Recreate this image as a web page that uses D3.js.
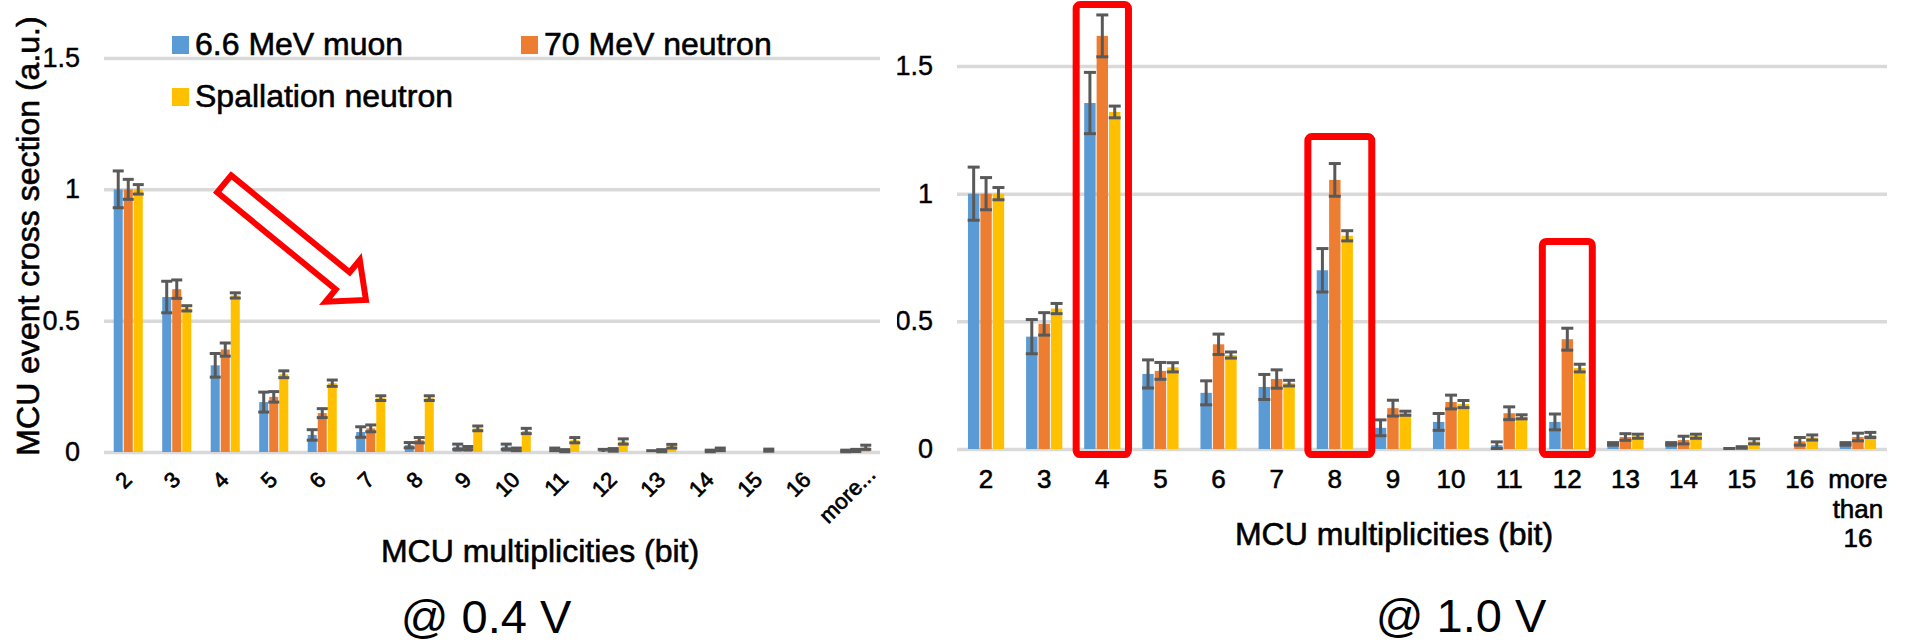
<!DOCTYPE html>
<html>
<head>
<meta charset="utf-8">
<script src="https://cdn.jsdelivr.net/npm/d3@7"></script>
<style>
    body { margin: 0; background: #fff; }
    text { font-family: "Liberation Sans", Arial, sans-serif; }
</style>
</head>
<body>
<div id="chart"></div>
<script>

// data
const seriesNames = ["6.6 MeV muon", "70 MeV neutron", "Spallation neutron"];
const seriesColors = ["#5b9bd5", "#ed7d31", "#ffc000"];
const yTicks = [0, 0.5, 1, 1.5];

// @ 0.4 V
const cats04 = ["2", "3", "4", "5", "6", "7", "8", "9", "10", "11", "12", "13", "14", "15", "16", "more..."];
const muon04 = [1.0, 0.59, 0.33, 0.19, 0.065, 0.076, 0.026, 0.02, 0.02, 0.01, 0.005, 0.002, 0, 0, 0, 0.004];
const muonErr04 = [0.07, 0.06, 0.045, 0.038, 0.02, 0.02, 0.01, 0.01, 0.01, 0.005, 0.005, 0.003, 0, 0, 0, 0.003];
const n70_04 = [1.0, 0.62, 0.39, 0.21, 0.148, 0.09, 0.045, 0.015, 0.01, 0.005, 0.008, 0.005, 0.004, 0, 0, 0.006];
const n70Err04 = [0.038, 0.035, 0.025, 0.02, 0.017, 0.013, 0.01, 0.006, 0.005, 0.004, 0.005, 0.004, 0.003, 0, 0, 0.004];
const spall04 = [1.0, 0.547, 0.596, 0.296, 0.262, 0.205, 0.205, 0.09, 0.08, 0.045, 0.04, 0.022, 0.01, 0.007, 0, 0.018];
const spallErr04 = [0.018, 0.01, 0.01, 0.013, 0.012, 0.009, 0.009, 0.009, 0.01, 0.01, 0.01, 0.007, 0.005, 0.004, 0, 0.008];

// @ 1.0 V
const cats10 = ["2", "3", "4", "5", "6", "7", "8", "9", "10", "11", "12", "13", "14", "15", "16", "more than 16"];
const muon10 = [1.0, 0.44, 1.355, 0.294, 0.22, 0.243, 0.70, 0.083, 0.106, 0.015, 0.106, 0.02, 0.02, 0, 0, 0.02];
const muonErr10 = [0.104, 0.067, 0.12, 0.055, 0.047, 0.049, 0.085, 0.031, 0.033, 0.013, 0.031, 0.005, 0.005, 0.002, 0, 0.005];
const n70_10 = [1.0, 0.49, 1.618, 0.306, 0.41, 0.274, 1.054, 0.16, 0.184, 0.14, 0.43, 0.047, 0.035, 0.006, 0.03, 0.047];
const n70Err10 = [0.063, 0.044, 0.082, 0.033, 0.04, 0.036, 0.064, 0.031, 0.027, 0.025, 0.043, 0.013, 0.015, 0.003, 0.015, 0.015];
const spall10 = [1.0, 0.55, 1.32, 0.32, 0.368, 0.258, 0.835, 0.14, 0.176, 0.126, 0.317, 0.05, 0.05, 0.03, 0.045, 0.055];
const spallErr10 = [0.024, 0.02, 0.023, 0.018, 0.012, 0.011, 0.02, 0.008, 0.014, 0.008, 0.015, 0.008, 0.008, 0.01, 0.01, 0.01];

// red annotations
const boxes10 = [
    { cat: "4", top: 1.741, bottom: -0.022, w: 0.9, dx: 0 },
    { cat: "8", top: 1.224, bottom: -0.022, w: 1.1, dx: 5 },
    { cat: "12", top: 0.813, bottom: -0.022, w: 0.86, dx: 0 }
];
const arrow04 = { fromIdx: 2.43, fromVal: 1.028, toIdx: 5.48, toVal: 0.567 };


const svg = d3.select("#chart")
    .append("svg")
    .attr("width", 1910)
    .attr("height", 643);

svg.append("rect").attr("width", 1910).attr("height", 643).attr("fill", "#fff");

function makeRows(cats, vals, errs) {
    return cats.map(function(c, i) {
        return {
            cat: c,
            items: seriesNames.map(function(s, k) {
                return { name: s, color: seriesColors[k], v: vals[k][i], e: errs[k][i] };
            })
        };
    });
}

function drawPanel(g, cfg) {
    const x0 = d3.scaleBand()
        .domain(cfg.cats)
        .range(cfg.xRange)
        .paddingInner(cfg.pad)
        .paddingOuter(cfg.pad / 2);
    const x1 = d3.scaleBand()
        .domain(seriesNames)
        .range([0, x0.bandwidth()]);
    const y = d3.scaleLinear()
        .domain([0, 1.5])
        .range(cfg.yRange);

    // gridlines + y labels
    const yAxis = g.append("g")
        .attr("transform", "translate(" + cfg.xRange[0] + ",0)")
        .call(d3.axisLeft(y)
            .tickValues(yTicks)
            .tickSize(-(cfg.xRange[1] - cfg.xRange[0]))
            .tickPadding(24)
            .tickFormat(function(d) { return String(d); }));
    yAxis.select(".domain").remove();
    yAxis.selectAll("line")
        .attr("stroke", "#d9d9d9")
        .attr("stroke-width", 3.5);
    yAxis.selectAll("text")
        .attr("fill", "#000")
        .style("font-size", "27px")
        .style("stroke", "#000")
        .style("stroke-width", "0.4px");

    const rows = makeRows(cfg.cats, cfg.vals, cfg.errs);

    const groups = g.append("g")
        .selectAll("g")
        .data(rows)
        .enter()
        .append("g")
        .attr("transform", function(d) { return "translate(" + x0(d.cat) + ",0)"; });

    groups.selectAll("rect")
        .data(function(d) { return d.items; })
        .enter()
        .append("rect")
        .attr("x", function(d) { return x1(d.name) + 0.5; })
        .attr("width", x1.bandwidth() - 1)
        .attr("y", function(d) { return y(d.v); })
        .attr("height", function(d) { return y(0) - y(d.v); })
        .attr("fill", function(d) { return d.color; });

    // error bars
    const capW = cfg.capW;
    const eb = groups.selectAll("g.err")
        .data(function(d) { return d.items.filter(function(it) { return it.e > 0; }); })
        .enter()
        .append("g")
        .attr("class", "err")
        .attr("stroke", "#595959")
        .attr("stroke-width", 3);
    eb.append("line")
        .attr("x1", function(d) { return x1(d.name) + x1.bandwidth() / 2; })
        .attr("x2", function(d) { return x1(d.name) + x1.bandwidth() / 2; })
        .attr("y1", function(d) { return y(Math.max(0, d.v - d.e)); })
        .attr("y2", function(d) { return y(d.v + d.e); });
    eb.append("line")
        .attr("x1", function(d) { return x1(d.name) + x1.bandwidth() / 2 - capW / 2; })
        .attr("x2", function(d) { return x1(d.name) + x1.bandwidth() / 2 + capW / 2; })
        .attr("y1", function(d) { return y(d.v + d.e); })
        .attr("y2", function(d) { return y(d.v + d.e); });
    eb.filter(function(d) { return d.v - d.e > 0; })
        .append("line")
        .attr("x1", function(d) { return x1(d.name) + x1.bandwidth() / 2 - capW / 2; })
        .attr("x2", function(d) { return x1(d.name) + x1.bandwidth() / 2 + capW / 2; })
        .attr("y1", function(d) { return y(d.v - d.e); })
        .attr("y2", function(d) { return y(d.v - d.e); });

    return { x0: x0, y: y };
}

// ---------- right panel (1.0 V) ----------
const gR = svg.append("g");
const right = drawPanel(gR, {
    cats: cats10,
    vals: [muon10, n70_10, spall10],
    errs: [muonErr10, n70Err10, spallErr10],
    xRange: [957, 1887],
    yRange: [449, 66],
    pad: 0.36,
    capW: 12
});

const xAxisR = gR.append("g")
    .attr("transform", "translate(0," + right.y(0) + ")")
    .call(d3.axisBottom(right.x0).tickSize(0).tickFormat(""));
xAxisR.select(".domain").remove();
xAxisR.selectAll(".tick")
    .append("text")
    .attr("fill", "#000")
    .attr("text-anchor", "middle")
    .style("font-size", "26px")
    .style("stroke", "#000")
    .style("stroke-width", "0.6px")
    .each(function(d) {
        const words = d === "more than 16" ? ["more", "than", "16"] : [d];
        const t = d3.select(this);
        words.forEach(function(w, i) {
            t.append("tspan").attr("x", 0).attr("y", 39 + i * 29.5).text(w);
        });
    });

gR.append("g")
    .selectAll("rect")
    .data(boxes10)
    .enter()
    .append("rect")
    .attr("x", function(d) { return right.x0(d.cat) + right.x0.bandwidth() / 2 + d.dx - d.w * right.x0.step() / 2; })
    .attr("width", function(d) { return d.w * right.x0.step(); })
    .attr("y", function(d) { return right.y(d.top); })
    .attr("height", function(d) { return right.y(d.bottom) - right.y(d.top); })
    .attr("rx", 4)
    .attr("fill", "none")
    .attr("stroke", "#ff0000")
    .attr("stroke-width", 7);

gR.append("text")
    .attr("x", (right.x0.range()[0] + right.x0.range()[1]) / 2 - 28)
    .attr("y", 545)
    .attr("text-anchor", "middle")
    .style("font-size", "32px")
    .style("stroke", "#000")
    .style("stroke-width", "0.6px")
    .text("MCU multiplicities (bit)");

gR.append("text")
    .attr("x", 1461)
    .attr("y", 632)
    .attr("text-anchor", "middle")
    .style("font-size", "47px")
    .text("@ 1.0 V");

// ---------- left panel (0.4 V) ----------
svg.append("rect")
    .attr("x", 0).attr("y", 0)
    .attr("width", 897).attr("height", 643)
    .attr("fill", "#fff");

const gL = svg.append("g");
const left = drawPanel(gL, {
    cats: cats04,
    vals: [muon04, n70_04, spall04],
    errs: [muonErr04, n70Err04, spallErr04],
    xRange: [104, 880],
    yRange: [452, 58],
    pad: 0.38,
    capW: 11
});

const xAxisL = gL.append("g")
    .attr("transform", "translate(0," + left.y(0) + ")")
    .call(d3.axisBottom(left.x0).tickSize(0));
xAxisL.select(".domain").remove();
xAxisL.selectAll("text")
    .attr("fill", "#000")
    .attr("text-anchor", "end")
    .attr("x", 0)
    .attr("y", 0)
    .attr("dy", 0)
    .attr("transform", function(d) {
        return d === "more..." ? "translate(21,24) rotate(-45)" : "translate(5,29) rotate(-45)";
    })
    .style("font-size", "22px")
    .style("stroke", "#000")
    .style("stroke-width", "0.7px");

// y title
gL.append("text")
    .attr("transform", "translate(39,236) rotate(-90)")
    .attr("text-anchor", "middle")
    .style("font-size", "32px")
    .style("stroke", "#000")
    .style("stroke-width", "0.6px")
    .text("MCU event cross section (a.u.)");

gL.append("text")
    .attr("x", 540)
    .attr("y", 562)
    .attr("text-anchor", "middle")
    .style("font-size", "32px")
    .style("stroke", "#000")
    .style("stroke-width", "0.6px")
    .text("MCU multiplicities (bit)");

gL.append("text")
    .attr("x", 486)
    .attr("y", 633)
    .attr("text-anchor", "middle")
    .style("font-size", "47px")
    .text("@ 0.4 V");

// legend
const legendPos = [[172, 36], [521, 36], [172, 88]];
const legend = gL.append("g")
    .selectAll("g")
    .data(seriesNames)
    .enter()
    .append("g")
    .attr("transform", function(d, i) { return "translate(" + legendPos[i][0] + "," + legendPos[i][1] + ")"; });
legend.append("rect")
    .attr("width", 17)
    .attr("height", 18)
    .attr("fill", function(d, i) { return seriesColors[i]; });
legend.append("text")
    .attr("x", 23)
    .attr("y", 19)
    .style("font-size", "32px")
    .style("stroke", "#000")
    .style("stroke-width", "0.6px")
    .text(function(d) { return d; });

// hollow arrow
const xi = d3.scaleLinear().domain([0, cats04.length]).range([104, 880]);
const ax0 = xi(arrow04.fromIdx), ay0 = left.y(arrow04.fromVal);
const ax1 = xi(arrow04.toIdx), ay1 = left.y(arrow04.toVal);
const aLen = Math.hypot(ax1 - ax0, ay1 - ay0) - 5;
const aAng = Math.atan2(ay1 - ay0, ax1 - ax0) * 180 / Math.PI;
const headL = 30, shaftW = 11, headW = 27;
gL.append("path")
    .attr("transform", "translate(" + ax0 + "," + ay0 + ") rotate(" + aAng + ")")
    .attr("d", d3.line()([
        [3, -shaftW], [aLen - headL, -shaftW], [aLen - headL, -headW], [aLen, 0],
        [aLen - headL, headW], [aLen - headL, shaftW], [3, shaftW]
    ]) + "Z")
    .attr("fill", "#fff")
    .attr("stroke", "#ff0000")
    .attr("stroke-width", 6)
    .attr("stroke-linejoin", "miter");

</script>
</body>
</html>
